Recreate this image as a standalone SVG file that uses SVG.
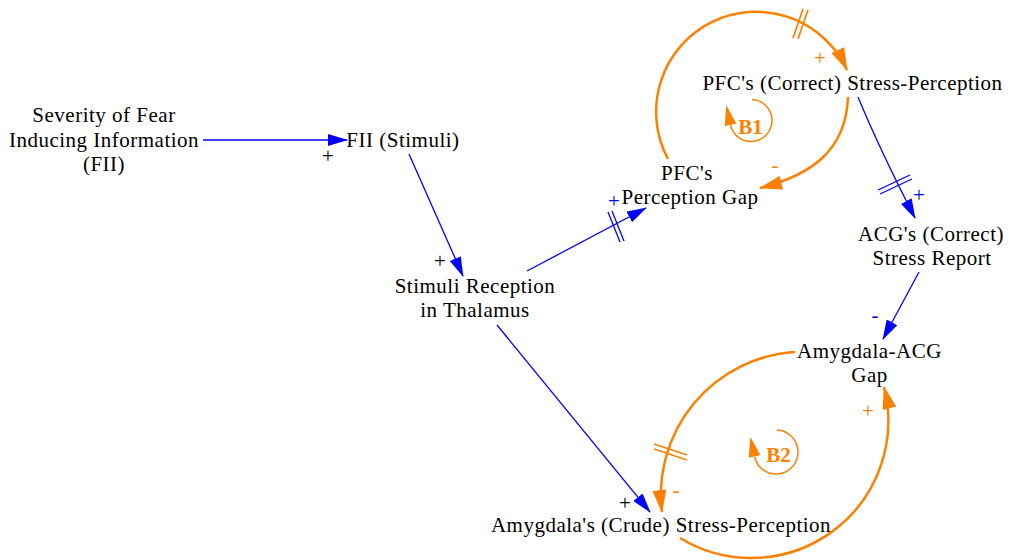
<svg xmlns="http://www.w3.org/2000/svg" width="1010" height="560" viewBox="0 0 1010 560">
<style>
.lbl{font-family:"Liberation Serif","Times New Roman",serif;font-size:21px;letter-spacing:0.5px;text-anchor:middle;fill:#000}
.sign{font-family:"Liberation Serif","Times New Roman",serif;font-size:21px;text-anchor:middle}
.loopt{font-family:"Liberation Serif","Times New Roman",serif;font-size:21px;font-weight:bold;text-anchor:middle;fill:#ff8000}
.b{stroke:#0000ff;stroke-width:1.3;fill:none}
.o{stroke:#ff8000;stroke-width:2.5;fill:none}
.ol{stroke:#ff8000;stroke-width:1.5;fill:none}
.hb{stroke:#0000ff;stroke-width:1.3}
.ho{stroke:#ff8000;stroke-width:1.7}
.k{fill:#000}.bl{fill:#0000ff}.or{fill:#ff8000}
</style>
<defs>
<marker id="ab" markerUnits="userSpaceOnUse" markerWidth="20" markerHeight="12" viewBox="0 0 20 12" refX="19" refY="6" orient="auto"><path d="M0,0 L20,6 L0,12 z" fill="#0000ff"/></marker>
<marker id="ao" markerUnits="userSpaceOnUse" markerWidth="23" markerHeight="14" viewBox="0 0 23 14" refX="22" refY="7" orient="auto"><path d="M0,0 L23,7 L0,14 z" fill="#ff8000"/></marker>
<marker id="al" markerUnits="userSpaceOnUse" markerWidth="20" markerHeight="12" viewBox="0 0 20 12" refX="0" refY="6" orient="auto"><path d="M0,0 L20,6 L0,12 z" fill="#ff8000"/></marker>
</defs>

<g id="connectors">
  <path class="b" d="M203,140 L347,140" marker-end="url(#ab)"/>
  <path class="b" d="M409,154 L463,276" marker-end="url(#ab)"/>
  <path class="b" d="M527,271 L646,208" marker-end="url(#ab)"/>
  <line class="hb" x1="608" y1="212" x2="620" y2="242"/>
  <line class="hb" x1="612" y1="211" x2="624" y2="241"/>
  <path class="b" d="M497,325 L650,512" marker-end="url(#ab)"/>
  <path class="b" d="M858,97 Q880,150 915,218" marker-end="url(#ab)"/>
  <line class="hb" x1="878" y1="190" x2="910" y2="175"/>
  <line class="hb" x1="880" y1="194" x2="912" y2="179"/>
  <path class="b" d="M919,272 L883,339" marker-end="url(#ab)"/>

  <path class="o" d="M668,159 A100,100 0 1 1 847,70" marker-end="url(#ao)"/>
  <line class="ho" x1="793" y1="38" x2="803" y2="9"/>
  <line class="ho" x1="798" y1="39" x2="808" y2="10"/>
  <path class="o" d="M848,97 C846,150 812,175 760,188" marker-end="url(#ao)"/>
  <path class="o" d="M795,352 A143,143 0 0 0 662,512" marker-end="url(#ao)"/>
  <line class="ho" x1="654" y1="444" x2="687" y2="455"/>
  <line class="ho" x1="654" y1="449" x2="687" y2="460"/>
  <path class="o" d="M680,538 A137,137 0 0 0 884,387" marker-end="url(#ao)"/>

  <text class="sign k" x="328" y="163.3">+</text>
  <text class="sign k" x="440" y="268.3">+</text>
  <text class="sign bl" x="614" y="207.5">+</text>
  <text class="sign k" x="625" y="510.3">+</text>
  <text class="sign bl" x="919" y="202.3">+</text>
  <text class="sign bl" x="875" y="322">-</text>
  <text class="sign or" x="820" y="65.3">+</text>
  <text class="sign or" x="775" y="171.5">-</text>
  <text class="sign or" x="676" y="496.5">-</text>
  <text class="sign or" x="868" y="418.3">+</text>
</g>

<g id="loop-B1">
  <path class="ol" d="M752,99.5 A21,21 0 1 1 730.5,124.9" marker-end="url(#al)"/>
  <text class="loopt" x="750.5" y="134">B1</text>
</g>
<g id="loop-B2">
  <path class="ol" d="M777,430 A22,22 0 1 1 754.5,456.5" marker-end="url(#al)"/>
  <text class="loopt" x="778.5" y="462">B2</text>
</g>

<g id="severity">
  <text class="lbl" x="104" y="122">Severity of Fear</text>
  <text class="lbl" x="104" y="147">Inducing Information</text>
  <text class="lbl" x="104" y="171">(FII)</text>
</g>
<g id="fii-stimuli"><text class="lbl" x="403" y="147">FII (Stimuli)</text></g>
<g id="thalamus">
  <text class="lbl" x="475" y="293">Stimuli Reception</text>
  <text class="lbl" x="475" y="317">in Thalamus</text>
</g>
<g id="pfc-gap">
  <text class="lbl" x="687" y="180">PFC's</text>
  <text class="lbl" x="690" y="204">Perception Gap</text>
</g>
<g id="pfc-perception"><text class="lbl" x="852.5" y="90">PFC's (Correct) Stress-Perception</text></g>
<g id="acg-report">
  <text class="lbl" x="931" y="241">ACG's (Correct)</text>
  <text class="lbl" x="932" y="265">Stress Report</text>
</g>
<g id="amygdala-acg-gap">
  <text class="lbl" x="869.5" y="358">Amygdala-ACG</text>
  <text class="lbl" x="869.5" y="382">Gap</text>
</g>
<g id="amygdala-perception"><text class="lbl" x="661" y="532">Amygdala's (Crude) Stress-Perception</text></g>
</svg>
